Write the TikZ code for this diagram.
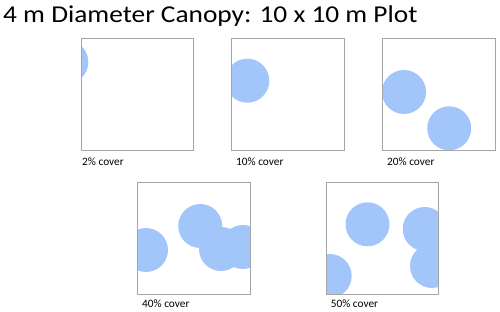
\documentclass[tikz,border=0pt]{standalone}
\usepackage{fontspec}
\setmainfont{Carlito}
\newfontfamily\titlefont[FakeStretch=1.13]{Carlito}
\definecolor{canopy}{RGB}{162,198,250}
\definecolor{plotline}{RGB}{165,165,165}
\tikzset{
  plotbox/.style={draw=plotline, line width=0.9pt, fill=none},
  crown/.style={fill=canopy, draw=none},
  lbl/.style={anchor=base west, inner sep=0pt, font=\fontsize{11.3}{13}\selectfont},
}
\begin{document}
\begin{tikzpicture}[x=1pt,y=-1pt]
\useasboundingbox (0,0) rectangle (500,312);
\node[anchor=base west, inner sep=0pt, font=\titlefont\fontsize{24.2}{28}\selectfont] (title) at (3,22.7) {4 m Diameter Canopy: 10 x 10 m Plot};
% plot 1
\begin{scope}
\clip (81.3,37.7) rectangle (193.3,150);
\fill[crown] (66.3,62) circle (22);
\end{scope}
\node[plotbox, minimum width=112pt, minimum height=112.3pt, inner sep=0pt, anchor=north west] (p1) at (81.3,37.7) {};
\node[lbl] (l1) at (82,165.5) {2\% cover};
% plot 2
\begin{scope}
\clip (231.3,37.7) rectangle (344,150);
\fill[crown] (247.3,80.7) circle (22);
\end{scope}
\node[plotbox, minimum width=112.7pt, minimum height=112.3pt, inner sep=0pt, anchor=north west] (p2) at (231.3,37.7) {};
\node[lbl] (l2) at (236,165.5) {10\% cover};
% plot 3
\begin{scope}
\clip (382.3,37.7) rectangle (494.7,150);
\fill[crown] (404,92) circle (22);
\fill[crown] (449.2,128.3) circle (22);
\end{scope}
\node[plotbox, minimum width=112.4pt, minimum height=112.3pt, inner sep=0pt, anchor=north west] (p3) at (382.3,37.7) {};
\node[lbl] (l3) at (387,165.5) {20\% cover};
% plot 4
\begin{scope}
\clip (137.3,181.7) rectangle (250,294);
\fill[crown] (146,250) circle (22);
\fill[crown] (200.2,226) circle (22);
\fill[crown] (221,249) circle (22);
\fill[crown] (243,247) circle (22);
\end{scope}
\node[plotbox, minimum width=112.7pt, minimum height=112.3pt, inner sep=0pt, anchor=north west] (p4) at (137.3,181.7) {};
\node[lbl] (l4) at (142,307.7) {40\% cover};
% plot 5
\begin{scope}
\clip (326,181.7) rectangle (438.3,294);
\fill[crown] (367.5,224.3) circle (22);
\fill[crown] (424.7,229) circle (22);
\fill[crown] (432,266) circle (22);
\fill[crown] (329.7,276) circle (22);
\end{scope}
\node[plotbox, minimum width=112.3pt, minimum height=112.3pt, inner sep=0pt, anchor=north west] (p5) at (326,181.7) {};
\node[lbl] (l5) at (330.7,307.7) {50\% cover};
\end{tikzpicture}
\end{document}
